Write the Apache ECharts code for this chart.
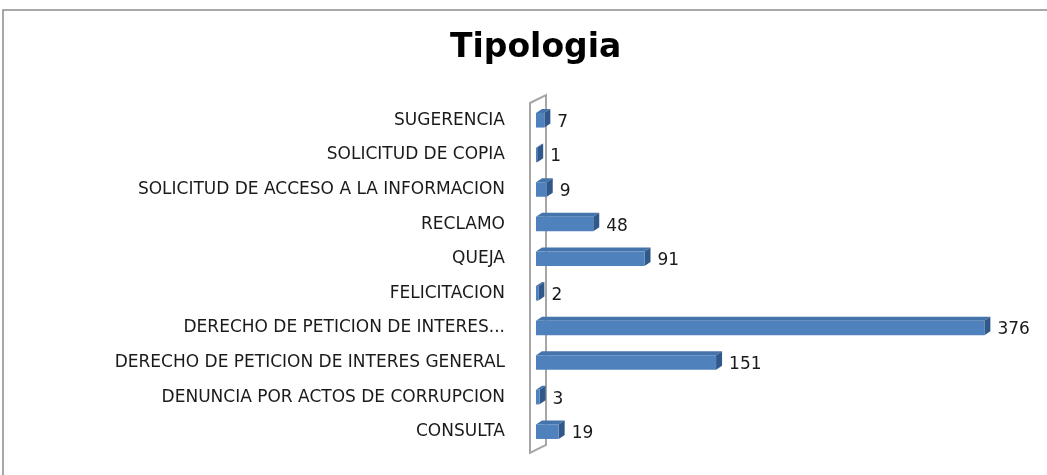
<!DOCTYPE html>
<html lang="es">
<head>
    <meta charset="UTF-8">
    <title>Tipologia</title>
    <style>
        html, body { margin: 0; padding: 0; background: #fff; }
        #chart { width: 1047px; height: 475px; }
    </style>
</head>
<body>
<div id="chart"></div>
<script src="https://cdn.jsdelivr.net/npm/echarts@6/dist/echarts.min.js"></script>
<script>
    // categorias de abajo hacia arriba, como en el grafico
    var categories = [
        'CONSULTA',
        'DENUNCIA POR ACTOS DE CORRUPCION',
        'DERECHO DE PETICION DE INTERES GENERAL',
        'DERECHO DE PETICION DE INTERES...',
        'FELICITACION',
        'QUEJA',
        'RECLAMO',
        'SOLICITUD DE ACCESO A LA INFORMACION',
        'SOLICITUD DE COPIA',
        'SUGERENCIA'
    ]
    var values = [19, 3, 151, 376, 2, 91, 48, 9, 1, 7]

    var DX = 6, DY = 4   // profundidad de las barras 3D

    var chart = echarts.init(document.getElementById('chart'))

    function renderBar(params, api) {
        var idx = api.value(1)
        var val = api.value(0)
        var start = api.coord([0, idx])
        var end = api.coord([val, idx])
        var h = api.size([0, 1])[1] * 0.42
        var x0 = start[0], x1 = end[0]
        var y0 = start[1] - h / 2, y1 = start[1] + h / 2
        return {
            type: 'group',
            children: [
                {
                    type: 'polygon',
                    shape: { points: [[x0, y0], [x1, y0], [x1 + DX, y0 - DY], [x0 + DX, y0 - DY]] },
                    style: { fill: '#4574aa' }
                },
                {
                    type: 'polygon',
                    shape: { points: [[x1, y0], [x1 + DX, y0 - DY], [x1 + DX, y1 - DY], [x1, y1]] },
                    style: { fill: '#30588a' }
                },
                {
                    type: 'rect',
                    shape: { x: x0, y: y0, width: x1 - x0, height: h },
                    style: { fill: '#4f81bd' }
                },
                {
                    type: 'text',
                    x: x1 + DX + 7,
                    y: start[1] + 2,
                    style: {
                        text: String(val),
                        fill: '#1a1a1a',
                        font: '17px "DejaVu Sans"',
                        verticalAlign: 'middle'
                    }
                }
            ]
        }
    }

    function renderWall(params, api) {
        var cs = params.coordSys
        var x0 = api.coord([0, 0])[0]
        var xl = x0 - 6, xr = x0 + 10
        var top = cs.y, bot = cs.y + cs.height + 4
        return {
            type: 'polygon',
            shape: { points: [[xl, top], [xr, top - 8], [xr, bot - 8], [xl, bot]] },
            style: { fill: 'none', stroke: '#a6a6a6', lineWidth: 2 }
        }
    }

    chart.setOption({
        animation: false,
        title: {
            text: 'Tipologia',
            left: 445,
            top: 27,
            textStyle: { fontFamily: 'DejaVu Sans', fontWeight: 'bold', fontSize: 33, color: '#000' }
        },
        graphic: [{
            type: 'rect',
            shape: { x: 3, y: 10, width: 1100, height: 520 },
            style: { fill: 'none', stroke: '#8c8c8c', lineWidth: 1.5 },
            silent: true
        }],
        grid: { left: 536, right: 34, top: 103, bottom: 26 },
        xAxis: {
            type: 'value',
            min: 0,
            max: 400,
            interval: 100,
            show: false
        },
        yAxis: {
            type: 'category',
            data: categories,
            axisLine: { show: false },
            axisTick: { show: false },
            axisLabel: {
                margin: 31,
                color: '#1a1a1a',
                fontFamily: 'DejaVu Sans',
                fontSize: 17,
                padding: [12, 0, 0, 0]
            }
        },
        series: [
            {
                type: 'custom',
                renderItem: renderWall,
                data: [[0, 0]],
                z: 1,
                silent: true
            },
            {
                type: 'custom',
                renderItem: renderBar,
                encode: { x: 0, y: 1 },
                data: values.map(function (v, i) { return [v, i] }),
                z: 2
            }
        ]
    })
</script>
</body>
</html>
